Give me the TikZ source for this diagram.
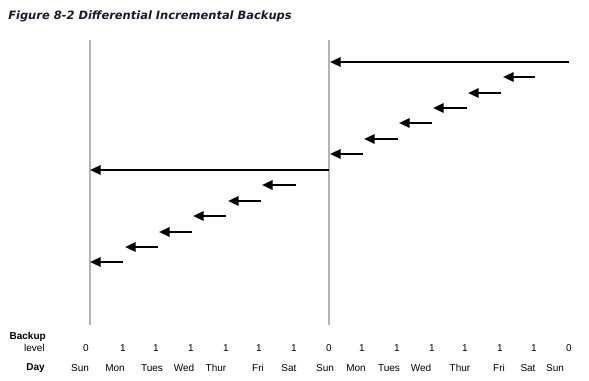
\documentclass[tikz,border=0pt]{standalone}
\usepackage{fontspec}
\setmainfont{Liberation Sans}
\newfontfamily\titlefont{DejaVu Sans}
\usetikzlibrary{arrows.meta}

\definecolor{titleink}{RGB}{25,25,45}
\definecolor{sungray}{RGB}{180,180,180}

\tikzset{
  titletext/.style={font=\titlefont\bfseries\itshape\fontsize{8.6}{10}\selectfont, text=titleink, inner sep=0pt},
  axistext/.style={font=\fontsize{7.5}{9}\selectfont, inner sep=0pt},
  headtext/.style={font=\bfseries\fontsize{7.5}{9}\selectfont, inner sep=0pt},
  sunline/.style={draw=sungray, line width=0.9pt},
  backarrow/.style={line width=1.7pt, -{Triangle[length=8pt,width=7pt]}},
}

\begin{document}
\begin{tikzpicture}[x=0.75pt,y=-0.75pt]
    \newcommand{\lvly}{348}
    \newcommand{\dayy}{368}

    \useasboundingbox (0,0) rectangle (589,381);

    \node[titletext, anchor=west] (title) at (8,16) {Figure 8-2 Differential Incremental Backups};

    % level 0 Sundays
    \draw[sunline] (90,40) -- (90,325);
    \draw[sunline] (329,40) -- (329,325);

    % first week
    \draw[backarrow] (329,170) -- (90,170);
    \draw[backarrow] (123,262) -- (90,262);
    \draw[backarrow] (158,247) -- (125,247);
    \draw[backarrow] (192,232) -- (159,232);
    \draw[backarrow] (226,216) -- (193,216);
    \draw[backarrow] (261,201) -- (228,201);
    \draw[backarrow] (296,185) -- (262,185);

    % second week
    \draw[backarrow] (569,62) -- (330,62);
    \draw[backarrow] (363,154) -- (330,154);
    \draw[backarrow] (398,139) -- (364,139);
    \draw[backarrow] (432,123) -- (399,123);
    \draw[backarrow] (467,108) -- (433,108);
    \draw[backarrow] (501,93) -- (468,93);
    \draw[backarrow] (535,77) -- (503,77);

    % row heads
    \node[headtext, anchor=east] (backup) at (46,337) {Backup};
    \node[axistext, anchor=east] (level) at (45,\lvly) {level};
    \node[headtext, anchor=east] (day) at (45,\dayy) {Day};

    % backup levels
    \node[axistext] (lvl0) at (86,\lvly) {0};
    \node[axistext] (lvl1) at (123,\lvly) {1};
    \node[axistext] (lvl2) at (156,\lvly) {1};
    \node[axistext] (lvl3) at (191,\lvly) {1};
    \node[axistext] (lvl4) at (226,\lvly) {1};
    \node[axistext] (lvl5) at (259,\lvly) {1};
    \node[axistext] (lvl6) at (294,\lvly) {1};
    \node[axistext] (lvl7) at (329,\lvly) {0};
    \node[axistext] (lvl8) at (362,\lvly) {1};
    \node[axistext] (lvl9) at (397,\lvly) {1};
    \node[axistext] (lvl10) at (432,\lvly) {1};
    \node[axistext] (lvl11) at (465,\lvly) {1};
    \node[axistext] (lvl12) at (500,\lvly) {1};
    \node[axistext] (lvl13) at (534,\lvly) {1};
    \node[axistext] (lvl14) at (569,\lvly) {0};

    % days
    \node[axistext] (day0) at (80,\dayy) {Sun};
    \node[axistext] (day1) at (115,\dayy) {Mon};
    \node[axistext] (day2) at (152,\dayy) {Tues};
    \node[axistext] (day3) at (184,\dayy) {Wed};
    \node[axistext] (day4) at (216,\dayy) {Thur};
    \node[axistext] (day5) at (258,\dayy) {Fri};
    \node[axistext] (day6) at (289,\dayy) {Sat};
    \node[axistext] (day7) at (325,\dayy) {Sun};
    \node[axistext] (day8) at (356,\dayy) {Mon};
    \node[axistext] (day9) at (389,\dayy) {Tues};
    \node[axistext] (day10) at (421,\dayy) {Wed};
    \node[axistext] (day11) at (460,\dayy) {Thur};
    \node[axistext] (day12) at (499,\dayy) {Fri};
    \node[axistext] (day13) at (528,\dayy) {Sat};
    \node[axistext] (day14) at (555,\dayy) {Sun};

\end{tikzpicture}
\end{document}
